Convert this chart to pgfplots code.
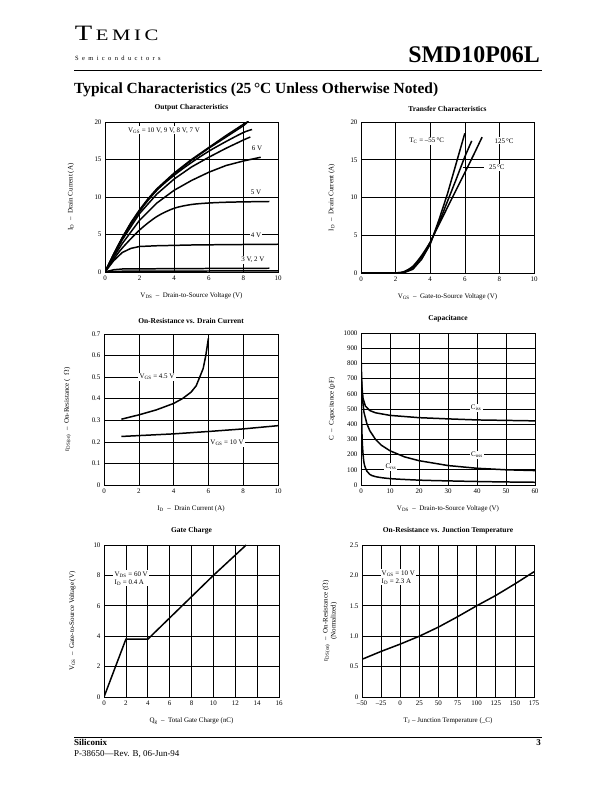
\documentclass[border=0pt]{standalone}
\usepackage{fontspec}
\setmainfont{Liberation Serif}
\usepackage{pgfplots}
\pgfplotsset{compat=1.18}
\newfontfamily\spacedsmall[LetterSpace=52]{Liberation Serif}
\pgfplotsset{
  dsheet/.style={
    scale only axis,
    /pgf/number format/assume math mode=true,
    /pgf/number format/1000 sep={},
    grid=major,
    major grid style={black, line width=0.6pt},
    axis line style={black, line width=0.7pt},
    major tick length=0pt,
    tick label style={font=\fontsize{7}{8}\selectfont},
    label style={font=\fontsize{7}{8}\selectfont},
    title style={font=\bfseries\fontsize{7.5}{9}\selectfont, at={(0.5,1)}, anchor=south, yshift=1pt},
    xlabel style={at={(axis description cs:0.5,-0.16)}, anchor=center},
    cycle list={{black,solid,smooth}},
    every axis plot post/.append style={black, solid, line width=1.5pt, no markers},
    clip=true,
  },
}
\tikzset{lab/.style={fill=white, inner sep=1.2pt, font=\fontsize{7}{8}\selectfont}}
\begin{document}
\begin{tikzpicture}
\path[use as bounding box, fill=white] (0,0) rectangle (612bp,792bp);
% header
\node[anchor=base west, inner sep=0, xscale=1.3, transform shape] at (74.5bp,751bp) {{\fontsize{22}{22}\selectfont T}\hspace{2.8bp}{\fontsize{16}{16}\selectfont E\hspace{2.8bp}M\hspace{2.8bp}I\hspace{2.8bp}C}};
\node[anchor=base west, inner sep=0] at (75bp,731.5bp) {\spacedsmall\fontsize{6.5}{6.5}\selectfont Semiconductors};
\node[anchor=base east, inner sep=0] at (540bp,729bp) {\bfseries\fontsize{24}{24}\selectfont SMD10P06L};
\draw[line width=0.9pt] (74bp,721.3bp) -- (542bp,721.3bp);
\node[anchor=base west, inner sep=0] at (74bp,698bp) {\bfseries\fontsize{15.5}{15.5}\selectfont Typical Characteristics (25\,°C Unless Otherwise Noted)};
% footer
\draw[line width=0.9pt] (74bp,55bp) -- (542bp,55bp);
\node[anchor=base west, inner sep=0] at (74bp,46.5bp) {\bfseries\fontsize{9}{9}\selectfont Siliconix};
\node[anchor=base east, inner sep=0] at (541bp,46.5bp) {\bfseries\fontsize{9}{9}\selectfont 3};
\node[anchor=base west, inner sep=0] at (74bp,36bp) {\fontsize{9}{9}\selectfont P-38650---Rev. B, 06-Jun-94};

% ---------- Output characteristics
\begin{axis}[dsheet, at={(105bp,520bp)}, anchor=south west, width=173bp, height=150bp,
  xmin=0, xmax=10, ymin=0, ymax=20, xtick={0,2,...,10}, ytick={0,5,...,20},
  title={Output Characteristics},
  xlabel={V\textsubscript{DS} \ -- \ Drain-to-Source Voltage (V)},
  ylabel={I\textsubscript{D} \ -- \ Drain Current (A)},
  ylabel style={at={(axis description cs:-0.197,0.5)}, anchor=center}]
\addplot coordinates {(0,0) (0.5,2.4) (1,4.6) (1.5,6.6) (2,8.3) (2.5,9.8) (3,11.1) (4,13.2) (5,15.0) (6,16.6) (7,18.2) (8,19.7) (8.3,20.1)};
\addplot coordinates {(0,0) (0.5,2.35) (1,4.55) (1.5,6.5) (2,8.2) (2.5,9.7) (3,11.0) (4,13.1) (5,14.9) (6,16.5) (7,18.0) (8,19.5) (8.2,19.9)};
\addplot coordinates {(0,0) (0.5,2.3) (1,4.5) (2,8.1) (3,10.9) (4,12.9) (5,14.6) (6,16.1) (7,17.4) (8,18.6) (8.5,19.0)};
\addplot coordinates {(0,0) (0.5,2.2) (1,4.3) (2,7.8) (3,10.4) (4,12.4) (5,14.0) (6,15.3) (7,16.5) (8,17.6) (8.4,18.0)};
\addplot coordinates {(0,0) (0.5,2.0) (1,3.8) (2,6.9) (3,9.2) (4,10.9) (5,12.2) (6,13.3) (7,14.2) (8,14.8) (9,15.3)};
\addplot coordinates {(0,0) (0.5,1.7) (1,3.2) (2,5.6) (3,7.4) (4,8.5) (5,9.0) (6,9.2) (7,9.3) (8,9.35) (9.5,9.4)};
\addplot coordinates {(0,0) (0.5,1.5) (1,2.6) (1.5,3.15) (2,3.4) (3,3.5) (5,3.6) (7,3.65) (10,3.7)};
\addplot coordinates {(0,0) (0.5,0.3) (1,0.4) (4,0.45) (9.5,0.5)};
\addplot coordinates {(0,0) (1,0.1) (10,0.15)};
\node[lab] at (axis cs:3.41,18.9) {V\textsubscript{GS} = 10 V, 9 V, 8 V, 7 V};
\node[lab] at (axis cs:8.79,16.5) {6 V};
\node[lab] at (axis cs:8.73,10.6) {5 V};
\node[lab] at (axis cs:8.73,4.9) {4 V};
\node[lab] at (axis cs:8.55,1.6) {3 V, 2 V};
\end{axis}

% ---------- Transfer characteristics
\begin{axis}[dsheet, at={(361bp,519bp)}, anchor=south west, width=173bp, height=151bp,
  xmin=0, xmax=10, ymin=0, ymax=20, xtick={0,2,...,10}, ytick={0,5,...,20},
  title={Transfer Characteristics},
  xlabel={V\textsubscript{GS} \ -- \ Gate-to-Source Voltage (V)},
  ylabel={I\textsubscript{D} \ -- \ Drain Current (A)},
  ylabel style={at={(axis description cs:-0.17,0.5)}, anchor=center}]
\addplot coordinates {(0,0) (2,0) (2.5,0.05) (3,0.5) (3.5,1.8) (4,3.8) (4.5,7.0) (5,10.5) (5.5,14.5) (6,18.5)};
\addplot coordinates {(0,0) (2,0) (2.5,0.1) (3,0.7) (3.5,2.1) (4,4.0) (4.5,6.6) (5,9.5) (5.5,12.4) (6,15.4) (6.4,17.5)};
\addplot coordinates {(0,0) (2,0.02) (2.5,0.2) (3,0.9) (3.5,2.3) (4,4.1) (4.5,6.4) (5,8.7) (5.5,11.0) (6,13.3) (6.5,15.6) (7,18.0)};
\node[lab] at (axis cs:3.8,17.5) {T\textsubscript{C} = –55\,°C};
\node[lab] at (axis cs:8.27,17.5) {125\,°C};
\draw[black, line width=0.8pt] (axis cs:5.9,14.0) -- (axis cs:7.1,14.0);
\node[lab] at (axis cs:7.85,14.0) {25\,°C};
\end{axis}

% ---------- On-resistance vs drain current
\begin{axis}[dsheet, at={(104bp,307bp)}, anchor=south west, width=174bp, height=151bp,
  xmin=0, xmax=10, ymin=0, ymax=0.7, xtick={0,2,...,10}, ytick={0,0.1,...,0.7},
  yticklabels={0,0.1,0.2,0.3,0.4,0.5,0.6,0.7},
  title={On-Resistance vs. Drain Current},
  xlabel={I\textsubscript{D} \ -- \ Drain Current (A)},
  ylabel={r\textsubscript{DS(on)} \ -- \ On-Resistance ( \ $\Omega$)},
  ylabel style={at={(axis description cs:-0.21,0.5)}, anchor=center}]
\addplot coordinates {(1,0.305) (2,0.325) (3,0.348) (4,0.378) (4.5,0.40) (5,0.43) (5.3,0.46) (5.5,0.50) (5.7,0.54) (5.85,0.60) (6,0.68)};
\addplot coordinates {(1,0.225) (2,0.229) (4,0.237) (6,0.248) (8,0.260) (10,0.275)};
\node[lab] at (axis cs:3.05,0.50) {V\textsubscript{GS} = 4.5 V};
\node[lab] at (axis cs:7.07,0.195) {V\textsubscript{GS} = 10 V};
\end{axis}

% ---------- Capacitance
\begin{axis}[dsheet, at={(361bp,307bp)}, anchor=south west, width=174bp, height=152bp,
  xmin=0, xmax=60, ymin=0, ymax=1000, xtick={0,10,...,60}, ytick={0,100,...,1000},
  title={Capacitance},
  xlabel={V\textsubscript{DS} \ -- \ Drain-to-Source Voltage (V)},
  ylabel={C \ -- \ Capacitance (pF)},
  ylabel style={at={(axis description cs:-0.167,0.5)}, anchor=center}]
\addplot coordinates {(0,870) (0.3,650) (0.7,570) (1.5,520) (3,490) (5,475) (10,458) (20,443) (30,435) (40,428) (50,425) (60,422)};
\addplot coordinates {(0.1,720) (0.5,570) (1,480) (2,405) (3,358) (5,300) (7,262) (10,225) (15,185) (20,160) (30,128) (40,110) (50,100) (60,95)};
\addplot coordinates {(0.1,560) (0.4,300) (1,150) (2,92) (3,70) (5,55) (10,42) (20,32) (30,27) (40,23) (50,20) (60,18)};
\node[lab] at (axis cs:39.7,507) {C\textsubscript{iss}};
\node[lab] at (axis cs:40,197) {C\textsubscript{oss}};
\node[lab] at (axis cs:10.3,118) {C\textsubscript{rss}};
\end{axis}

% ---------- Gate charge
\begin{axis}[dsheet, at={(104bp,95bp)}, anchor=south west, width=175bp, height=152bp,
  xmin=0, xmax=16, ymin=0, ymax=10, xtick={0,2,...,16}, ytick={0,2,...,10},
  title={Gate Charge},
  xlabel={Q\textsubscript{g} \ -- \ Total Gate Charge (nC)},
  ylabel={V\textsubscript{GS} \ -- \ Gate-to-Source Voltage (V)},
  ylabel style={at={(axis description cs:-0.18,0.5)}, anchor=center}]
\addplot+[sharp plot] coordinates {(0,0) (2,3.8) (4,3.8) (10,8.0) (13,10)};
\node[lab, anchor=west, align=left] at (axis cs:0.85,7.8) {V\textsubscript{DS} = 60 V\\I\textsubscript{D} = 0.4 A};
\end{axis}

% ---------- On-resistance vs junction temperature
\begin{axis}[dsheet, at={(362bp,95bp)}, anchor=south west, width=172bp, height=152bp,
  xmin=-50, xmax=175, ymin=0, ymax=2.5, xtick={-50,-25,...,175}, ytick={0,0.5,...,2.5},
  xticklabels={--50,--25,0,25,50,75,100,125,150,175},
  yticklabels={0,0.5,1.0,1.5,2.0,2.5},
  title={On-Resistance vs. Junction Temperature},
  xlabel={T\textsubscript{J} -- Junction Temperature (\_C)},
  ylabel={r\textsubscript{DS(on)} \ -- \ On-Resistance ($\Omega$)\\(Normalized)},
  ylabel style={at={(axis description cs:-0.186,0.5)}, anchor=center, align=center}]
\addplot coordinates {(-50,0.62) (-25,0.75) (0,0.87) (25,1.0) (50,1.15) (75,1.32) (100,1.5) (125,1.67) (150,1.86) (175,2.06)};
\node[lab, anchor=west, align=left] at (axis cs:-26,1.97) {V\textsubscript{GS} = 10 V\\I\textsubscript{D} = 2.3 A};
\end{axis}
\end{tikzpicture}
\end{document}
